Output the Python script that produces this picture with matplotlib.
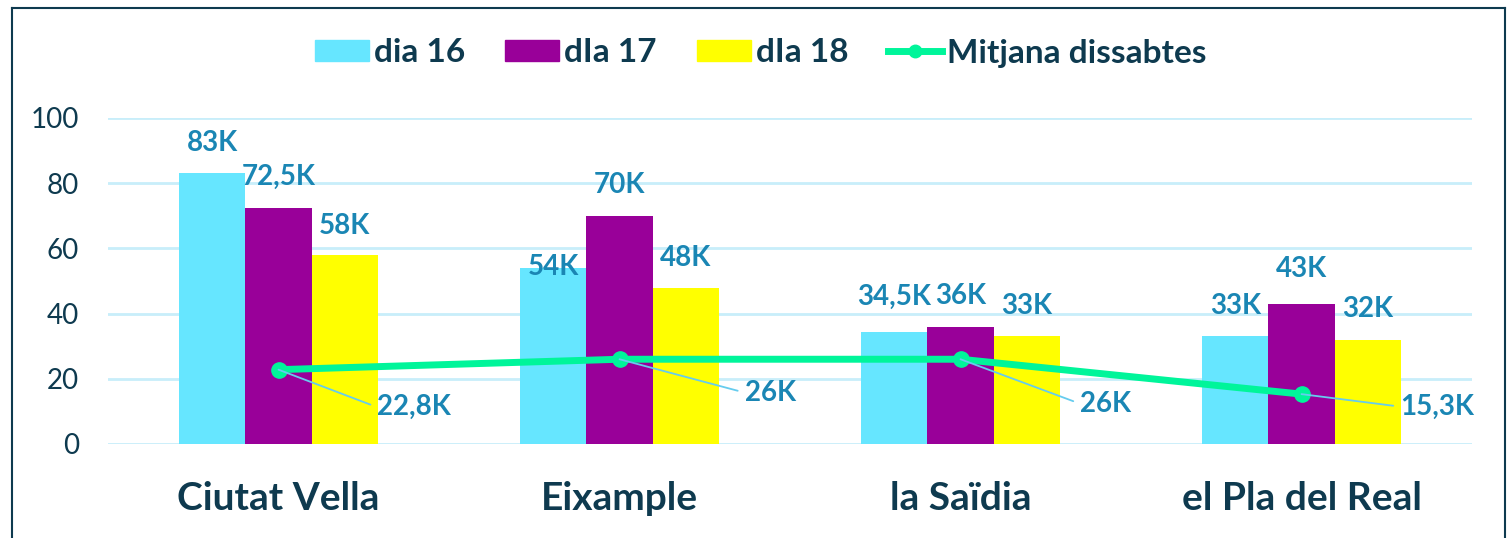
import numpy as np
import matplotlib
matplotlib.use("Agg")
import matplotlib.pyplot as plt
from matplotlib.lines import Line2D

# dades
barris = ["Ciutat Vella", "Eixample", "la Saïdia", "el Pla del Real"]
dia16 = [83, 54, 34.5, 33]
dia17 = [72.5, 70, 36, 43]
dia18 = [58, 48, 33, 32]
mitjana = [22.8, 26, 26, 15.3]
series_noms = ["dia 16", "dIa 17", "dIa 18"]
mitjana_nom = "Mitjana dissabtes"
yticks = [0, 20, 40, 60, 80, 100]

def etiqueta(v):
    s = ("%g" % v).replace(".", ",")
    return s + "K"

plt.rcParams['font.family'] = ['Lato', 'DejaVu Sans']

colors = ["#66E6FF", "#990099", "#FFFF00"]
verd = "#00F59A"
blau_txt = "#1A86B4"
navy = "#0E3A4F"

fig = plt.figure(figsize=(15.09, 5.38), dpi=100)
ax = fig.add_axes([108/1509, 1-444/538, (1472-108)/1509, (444-118)/538])

x = np.arange(len(barris))
w = 0.194
# offset vertical de les etiquetes (punts), la de 54K queda quasi enganxada
label_dy = [[22, 22, 21], [1, 22, 21], [25, 22, 22], [22, 25, 22]]

for i, (vals, c) in enumerate(zip([dia16, dia17, dia18], colors)):
    xs = x + (i - 1) * w
    ax.bar(xs, vals, width=w, color=c, zorder=2, label=series_noms[i])
    for j, v in enumerate(vals):
        ax.annotate(etiqueta(v), (xs[j], v), xytext=(0, label_dy[j][i]),
                    textcoords="offset points", ha="center", va="center",
                    fontsize=20, fontweight="bold", color=blau_txt, zorder=5)

ax.plot(x, mitjana, color=verd, lw=5, marker="o", ms=11, zorder=4,
        solid_capstyle="round")

# etiquetes de la mitjana amb línia guia
mit_off = [(71, -27), (90, -24), (86, -32), (71, -9)]
for j, v in enumerate(mitjana):
    ax.annotate(etiqueta(v), (x[j], v), xytext=mit_off[j], textcoords="offset points",
                ha="left", va="center", fontsize=20, fontweight="bold", color=blau_txt,
                arrowprops=dict(arrowstyle="-", color="#66CCEE", lw=1.3,
                                shrinkA=3, shrinkB=0, relpos=(0, 0.5)),
                zorder=5)

ax.set_xlim(-0.5, len(barris) - 0.5)
ax.set_ylim(0, 100)
ax.set_yticks(yticks)
ax.set_xticks(x)
ax.set_xticklabels(barris, fontsize=28, fontweight="bold", color=navy)
ax.tick_params(axis="x", length=0, pad=27)
ax.tick_params(axis="y", length=0, pad=21, labelsize=20, labelcolor=navy)
ax.grid(axis="y", color="#C8EEFA", lw=2, zorder=0)
for s in ax.spines.values():
    s.set_visible(False)

handles = [plt.Rectangle((0, 0), 1, 1, color=c) for c in colors]
handles.append(Line2D([], [], color=verd, lw=5, marker="o", ms=9))
leg = fig.legend(handles, series_noms + [mitjana_nom], loc="center",
                 bbox_to_anchor=(761/1509, 1-53/538), ncol=4, frameon=False,
                 prop=dict(size=24, weight="bold"), handlelength=1.62,
                 handleheight=0.6, handletextpad=0.15, columnspacing=1.2)
for t in leg.get_texts():
    t.set_color(navy)

# marc
fig.add_artist(Line2D([12/1509, 12/1509], [0, 1-8/538], color=navy, lw=1.5))
fig.add_artist(Line2D([12/1509, 1505/1509], [1-8/538, 1-8/538], color=navy, lw=1.5))
fig.add_artist(Line2D([1505/1509, 1505/1509], [0, 1-8/538], color=navy, lw=1.5))

fig.savefig("out.png", dpi=100)
